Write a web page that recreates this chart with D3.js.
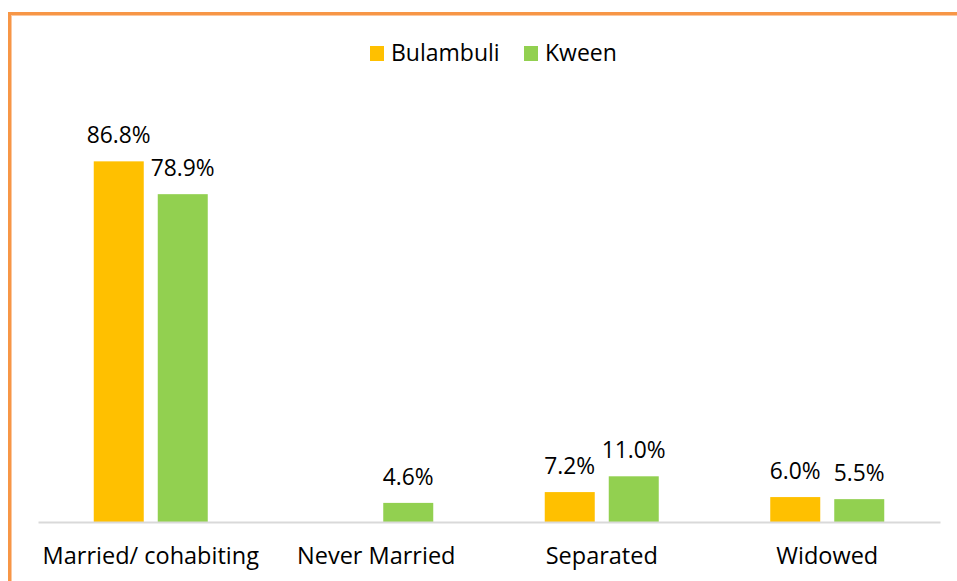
<!DOCTYPE html>
<html>
<head>
<meta charset="utf-8">
<script src="https://cdn.jsdelivr.net/npm/d3@7"></script>
<style>
  body { margin: 0; background: #fff; }
  svg text { font-family: "Open Sans", Lato, sans-serif; fill: #000; }
</style>
</head>
<body>
<div id="chart"></div>
<script>
const categories = ["Married/ cohabiting", "Never Married", "Separated", "Widowed"];
const seriesNames = ["Bulambuli", "Kween"];
const bulambuli = [86.8, null, 7.2, 6.0];
const kween = [78.9, 4.6, 11.0, 5.5];
const colors = ["#FFC000", "#92D050"];

const width = 957, height = 581;
const baseY = 522;

const svg = d3.select("#chart")
  .append("svg")
  .attr("width", width)
  .attr("height", height);

// frame
svg.append("rect")
  .attr("x", 9.5).attr("y", 13.5)
  .attr("width", 960).attr("height", 600)
  .attr("fill", "none")
  .attr("stroke", "#F79646")
  .attr("stroke-width", 3);
svg.append("rect")
  .attr("x", 11.5).attr("y", 15.5)
  .attr("width", 960).attr("height", 600)
  .attr("fill", "none")
  .attr("stroke", "#FBC8A0")
  .attr("stroke-width", 1);

const x0 = d3.scaleBand()
  .domain(categories)
  .range([38, 940])
  .paddingInner(0).paddingOuter(0);

const x1 = d3.scaleBand()
  .domain(seriesNames)
  .range([x0.bandwidth() / 2 - 57, x0.bandwidth() / 2 + 57])
  .paddingInner(0.21875);

const y = d3.scaleLinear()
  .domain([0, 100])
  .range([baseY, baseY - 415.5]);

const rows = categories.map((c, i) => ({
  cat: c,
  values: [
    { key: seriesNames[0], value: bulambuli[i], color: colors[0] },
    { key: seriesNames[1], value: kween[i], color: colors[1] }
  ]
}));

const groups = svg.selectAll("g.cat")
  .data(rows)
  .enter()
  .append("g")
  .attr("class", "cat")
  .attr("transform", d => `translate(${x0(d.cat)},0)`);

const bars = groups.selectAll("g.bar")
  .data(d => d.values.filter(v => v.value != null))
  .enter()
  .append("g");

bars.append("rect")
  .attr("x", d => x1(d.key))
  .attr("width", x1.bandwidth())
  .attr("y", d => y(d.value))
  .attr("height", d => baseY - y(d.value))
  .attr("fill", d => d.color);

bars.append("text")
  .attr("x", d => x1(d.key) + x1.bandwidth() / 2)
  .attr("y", d => y(d.value) - 18)
  .attr("text-anchor", "middle")
  .style("font-size", "22.8px")
  .text(d => d.value.toFixed(1) + "%");

// axis line
const xAxis = d3.axisBottom(x0).tickSize(0).tickPadding(25);
const gx = svg.append("g")
  .attr("transform", `translate(0,${baseY})`)
  .call(xAxis);
gx.select(".domain").attr("stroke", "#D9D9D9").attr("stroke-width", 2);
gx.selectAll("text")
  .style("font-size", "23.5px")
  .style("font-family", "'Open Sans', Lato, sans-serif")
  .attr("fill", "#000");

// legend
const legendX = [370, 524];
const legend = svg.selectAll("g.legend")
  .data(seriesNames)
  .enter()
  .append("g")
  .attr("class", "legend")
  .attr("transform", (d, i) => `translate(${legendX[i]},46)`);

legend.append("rect")
  .attr("width", 14).attr("height", 15)
  .attr("fill", (d, i) => colors[i]);

legend.append("text")
  .attr("x", 21).attr("y", 15)
  .style("font-size", "23px")
  .text(d => d);
</script>
</body>
</html>
